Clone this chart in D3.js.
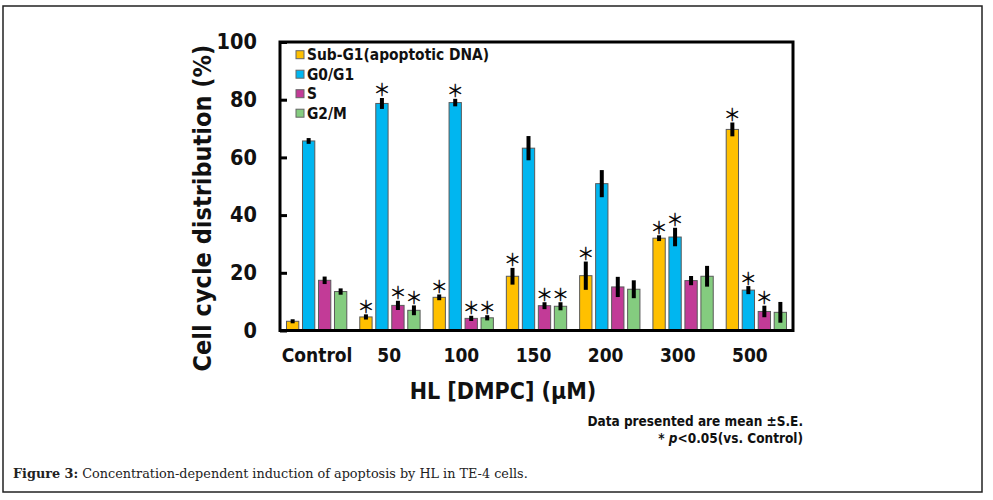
<!DOCTYPE html>
<html>
<head>
<meta charset="utf-8">
<script src="https://cdn.jsdelivr.net/npm/d3@7"></script>
<style>
  html, body { margin: 0; padding: 0; background: #fff; }
  svg { display: block; }
  .sans { font-family: "DejaVu Sans Condensed", "DejaVu Sans", sans-serif; font-stretch: condensed; font-weight: bold; }
</style>
</head>
<body>
<svg id="chart" width="993" height="500"></svg>
<script>
const categories = ["Control", "50", "100", "150", "200", "300", "500"];
const seriesNames = ["Sub-G1(apoptotic DNA)", "G0/G1", "S", "G2/M"];
const seriesColors = ["#FFC000", "#00B6F0", "#C23B97", "#84CC7F"];

const subG1 = [3.2, 4.7, 11.5, 18.8, 19.0, 32.0, 69.7];
const g0g1  = [65.7, 78.7, 79.0, 63.2, 50.9, 32.4, 14.0];
const sPhase = [17.4, 8.7, 4.2, 8.6, 15.1, 17.3, 6.6];
const g2m   = [13.5, 7.0, 4.4, 8.4, 14.3, 18.8, 6.3];

const subG1Err = [0.7, 0.9, 1.0, 2.9, 4.9, 1.0, 2.4];
const g0g1Err  = [1.0, 1.9, 1.3, 4.2, 4.7, 3.2, 1.4];
const sPhaseErr = [1.3, 1.6, 0.9, 1.2, 3.5, 1.6, 2.0];
const g2mErr   = [1.1, 1.7, 0.9, 1.4, 3.1, 3.6, 3.6];

const subG1Sig = [0, 1, 1, 1, 1, 1, 1];
const g0g1Sig  = [0, 1, 1, 0, 0, 1, 1];
const sPhaseSig = [0, 1, 1, 1, 0, 0, 1];
const g2mSig   = [0, 1, 1, 1, 0, 0, 0];

const yTicks = [0, 20, 40, 60, 80, 100];

const yTitle = "Cell cycle distribution (%)";
const xTitle = "HL [DMPC] (μM)";
const note1 = "Data presented are mean ±S.E.";
const captionBold = "Figure 3:";
const captionRest = " Concentration-dependent induction of apoptosis by HL in TE-4 cells.";

const values = [subG1, g0g1, sPhase, g2m];
const errors = [subG1Err, g0g1Err, sPhaseErr, g2mErr];
const sigs = [subG1Sig, g0g1Sig, sPhaseSig, g2mSig];

const rows = [];
categories.forEach((c, i) => {
  seriesNames.forEach((s, j) => {
    rows.push({cat: c, series: s, value: values[j][i], err: errors[j][i], sig: sigs[j][i], color: seriesColors[j]});
  });
});

const svg = d3.select("#chart");
const L = 280, R = 793, T = 42, B = 330.5;

// outer frame
svg.append("rect").attr("x", 3).attr("y", 6).attr("width", 979).attr("height", 486)
  .attr("fill", "none").attr("stroke", "#222").attr("stroke-width", 1.5);

const x0 = d3.scaleBand().domain(categories).range([L, R]).paddingInner(0.177).paddingOuter(0.0885);
const x1 = d3.scaleBand().domain(seriesNames).range([0, x0.bandwidth()]).paddingInner(0.23).paddingOuter(0);
const y = d3.scaleLinear().domain([0, 100]).range([B, T]);
const xLabel = d3.scaleBand().domain(categories).range([281, 786]);

// bars
const g = svg.append("g");
g.selectAll("rect.bar").data(rows).join("rect").attr("class", "bar")
  .attr("x", d => x0(d.cat) + x1(d.series))
  .attr("y", d => y(d.value))
  .attr("width", x1.bandwidth())
  .attr("height", d => y(0) - y(d.value))
  .attr("fill", d => d.color)
  .attr("stroke", "#5a5a5a").attr("stroke-width", 1);

// error bars
g.selectAll("line.err").data(rows).join("line").attr("class", "err")
  .attr("x1", d => x0(d.cat) + x1(d.series) + x1.bandwidth() / 2)
  .attr("x2", d => x0(d.cat) + x1(d.series) + x1.bandwidth() / 2)
  .attr("y1", d => y(d.value - d.err))
  .attr("y2", d => y(d.value + d.err))
  .attr("stroke", "#000").attr("stroke-width", 4);

// significance
g.selectAll("text.sig").data(rows.filter(d => d.sig)).join("text").attr("class", "sig")
  .attr("x", d => x0(d.cat) + x1(d.series) + x1.bandwidth() / 2)
  .attr("y", d => y(d.value + d.err) - 9)
  .attr("text-anchor", "middle")
  .attr("dominant-baseline", "central")
  .attr("font-family", "Noto Sans CJK JP, sans-serif")
  .attr("font-weight", 400)
  .attr("font-size", 17)
  .attr("fill", "#000")
  .attr("stroke", "#000").attr("stroke-width", 0.25)
  .text("＊");

// y axis
const yAxis = svg.append("g").attr("transform", `translate(${L},0)`)
  .call(d3.axisLeft(y).tickValues(yTicks).tickSizeInner(-7).tickSizeOuter(0).tickPadding(23));
yAxis.select(".domain").remove();
yAxis.selectAll(".tick line").attr("stroke", "#000").attr("stroke-width", 3);
yAxis.selectAll(".tick text").attr("class", "sans").attr("font-size", 21.5).attr("fill", "#111");

// x axis labels
const xAxis = svg.append("g").attr("transform", `translate(0,${B})`)
  .call(d3.axisBottom(xLabel).tickSize(0).tickPadding(18));
xAxis.select(".domain").remove();
xAxis.selectAll(".tick text").attr("class", "sans").attr("font-size", 19).attr("fill", "#111");

// plot frame
svg.append("rect").attr("x", L).attr("y", T).attr("width", R - L).attr("height", B - T)
  .attr("fill", "none").attr("stroke", "#000").attr("stroke-width", 3);

// legend
const leg = svg.append("g");
seriesNames.forEach((s, j) => {
  const yy = 54.7 + j * 19.5;
  leg.append("rect").attr("x", 296).attr("y", yy - 4).attr("width", 8).attr("height", 8)
    .attr("fill", seriesColors[j]).attr("stroke", "#666").attr("stroke-width", 1);
  leg.append("text").attr("class", "sans").attr("x", 307).attr("y", yy + 5.5)
    .attr("font-size", 15.4).attr("fill", "#111").text(s);
});

// axis titles
svg.append("text").attr("class", "sans")
  .attr("transform", "translate(202,208) rotate(-90)")
  .attr("text-anchor", "middle").attr("dy", "0.36em")
  .attr("font-size", 25).attr("fill", "#111").text(yTitle);

svg.append("text").attr("class", "sans")
  .attr("x", 503).attr("y", 399).attr("text-anchor", "middle")
  .attr("font-size", 23).attr("fill", "#111").text(xTitle);

// notes
svg.append("text").attr("class", "sans").attr("x", 803).attr("y", 426)
  .attr("text-anchor", "end").attr("font-size", 13.5).attr("fill", "#111").text(note1);
const n2 = svg.append("text").attr("class", "sans").attr("x", 803).attr("y", 443)
  .attr("text-anchor", "end").attr("font-size", 13.5).attr("fill", "#111");
n2.append("tspan").text("* ");
n2.append("tspan").attr("font-style", "italic").text("p");
n2.append("tspan").text("<0.05(vs. Control)");

// caption
const cap = svg.append("text").attr("x", 13).attr("y", 478)
  .attr("font-family", "DejaVu Serif, serif").attr("font-size", 12.8).attr("fill", "#222");
cap.append("tspan").attr("font-weight", "bold").text(captionBold);
cap.append("tspan").text(captionRest);
</script>
</body>
</html>
